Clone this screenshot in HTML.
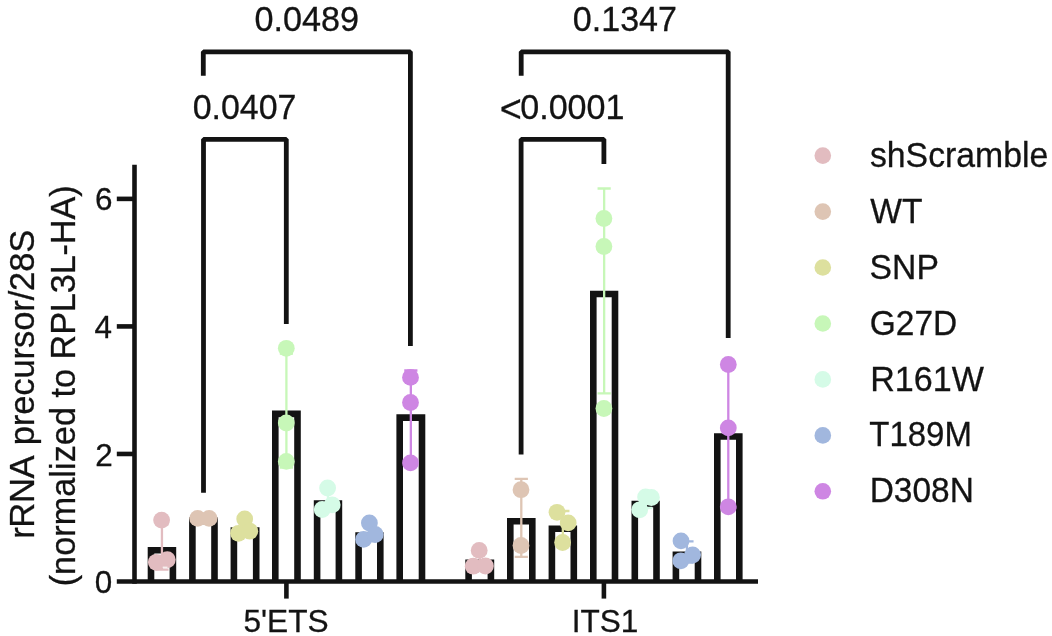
<!DOCTYPE html>
<html lang="en"><head><meta charset="utf-8"><title>rRNA precursor/28S</title>
<style>html,body{margin:0;padding:0;background:#fff}body{width:1052px;height:636px;overflow:hidden}svg{display:block}text{font-family:"Liberation Sans",sans-serif;fill:#131313;stroke:#131313;stroke-width:0.3px}</style>
</head><body>
<svg width="1052" height="636" viewBox="0 0 1052 636">
<rect width="1052" height="636" fill="#fff"/>
<g fill="none" stroke="#131313" stroke-width="6.6">
<path d="M151.00 581.5 V550.30 H172.90 V581.5"/>
<path d="M192.40 581.5 V520.90 H214.50 V581.5"/>
<path d="M233.90 581.5 V530.60 H256.20 V581.5"/>
<path d="M275.30 581.5 V413.90 H297.50 V581.5"/>
<path d="M317.10 581.5 V503.60 H338.90 V581.5"/>
<path d="M358.60 581.5 V535.50 H380.30 V581.5"/>
<path d="M399.70 581.5 V417.60 H422.00 V581.5"/>
<path d="M468.60 581.5 V562.70 H490.90 V581.5"/>
<path d="M510.30 581.5 V521.20 H532.30 V581.5"/>
<path d="M551.90 581.5 V528.70 H573.80 V581.5"/>
<path d="M593.30 581.5 V294.00 H615.00 V581.5"/>
<path d="M634.80 581.5 V504.00 H656.50 V581.5"/>
<path d="M675.90 581.5 V554.90 H698.00 V581.5"/>
<path d="M717.30 581.5 V436.50 H739.30 V581.5"/>
</g>
<g fill="none" stroke="#131313" stroke-width="4.6">
<path d="M134.5 164.7 V583.80"/>
<path d="M116.8 581.5 H758.0"/>
<path d="M116.8 453.96 H134.5"/>
<path d="M116.8 326.42 H134.5"/>
<path d="M116.8 198.88 H134.5"/>
<path d="M286.4 581.5 V598.6"/>
<path d="M603.9 581.5 V598.6"/>
</g>
<path d="M161.95 524.3 V569.6 M155.35 524.3 H168.55 M155.35 569.6 H168.55" fill="none" stroke="#E2BCC0" stroke-width="2.3"/>
<circle cx="161.6" cy="520.1" r="8.4" fill="#E2BCC0"/>
<circle cx="156.3" cy="562.3" r="8.4" fill="#E2BCC0"/>
<circle cx="167.3" cy="559.7" r="8.4" fill="#E2BCC0"/>
<circle cx="197.7" cy="518.4" r="8.4" fill="#DEC5B4"/>
<circle cx="209.1" cy="518.4" r="8.4" fill="#DEC5B4"/>
<path d="M245.05 518.5 V536.5 M238.45 518.5 H251.65 M238.45 536.5 H251.65" fill="none" stroke="#DDE09E" stroke-width="2.3"/>
<circle cx="244.7" cy="519.0" r="8.4" fill="#DDE09E"/>
<circle cx="238.5" cy="533.3" r="8.4" fill="#DDE09E"/>
<circle cx="249.8" cy="531.2" r="8.4" fill="#DDE09E"/>
<path d="M286.40 353.5 V467.5 M279.80 353.5 H293.00 M279.80 467.5 H293.00" fill="none" stroke="#C7F7B8" stroke-width="2.3"/>
<circle cx="286.3" cy="348.3" r="8.4" fill="#C7F7B8"/>
<circle cx="286.3" cy="423.0" r="8.4" fill="#C7F7B8"/>
<circle cx="286.3" cy="461.4" r="8.4" fill="#C7F7B8"/>
<path d="M328.00 490.5 V511.0 M321.40 490.5 H334.60 M321.40 511.0 H334.60" fill="none" stroke="#D5FBE7" stroke-width="2.3"/>
<circle cx="327.6" cy="488.0" r="8.4" fill="#D5FBE7"/>
<circle cx="322.2" cy="509.5" r="8.4" fill="#D5FBE7"/>
<circle cx="332.2" cy="504.8" r="8.4" fill="#D5FBE7"/>
<path d="M369.45 524.0 V541.0 M362.85 524.0 H376.05 M362.85 541.0 H376.05" fill="none" stroke="#A1B7DE" stroke-width="2.3"/>
<circle cx="369.4" cy="523.0" r="8.4" fill="#A1B7DE"/>
<circle cx="363.6" cy="539.4" r="8.4" fill="#A1B7DE"/>
<circle cx="375.2" cy="534.5" r="8.4" fill="#A1B7DE"/>
<path d="M410.85 370.5 V459.0 M404.25 370.5 H417.45 M404.25 459.0 H417.45" fill="none" stroke="#CE86E3" stroke-width="2.3"/>
<circle cx="410.5" cy="377.4" r="8.4" fill="#CE86E3"/>
<circle cx="410.5" cy="402.5" r="8.4" fill="#CE86E3"/>
<circle cx="410.5" cy="462.9" r="8.4" fill="#CE86E3"/>
<path d="M479.75 551.0 V568.0 M473.15 551.0 H486.35 M473.15 568.0 H486.35" fill="none" stroke="#E2BCC0" stroke-width="2.3"/>
<circle cx="479.2" cy="550.4" r="8.4" fill="#E2BCC0"/>
<circle cx="473.2" cy="566.2" r="8.4" fill="#E2BCC0"/>
<circle cx="485.4" cy="566.0" r="8.4" fill="#E2BCC0"/>
<path d="M521.30 478.9 V556.9 M514.70 478.9 H527.90 M514.70 556.9 H527.90" fill="none" stroke="#DEC5B4" stroke-width="2.3"/>
<circle cx="521.0" cy="489.7" r="8.4" fill="#DEC5B4"/>
<circle cx="521.0" cy="545.5" r="8.4" fill="#DEC5B4"/>
<path d="M562.85 511.0 V541.0 M556.25 511.0 H569.45 M556.25 541.0 H569.45" fill="none" stroke="#DDE09E" stroke-width="2.3"/>
<circle cx="557.0" cy="512.3" r="8.4" fill="#DDE09E"/>
<circle cx="568.2" cy="522.9" r="8.4" fill="#DDE09E"/>
<circle cx="562.6" cy="542.5" r="8.4" fill="#DDE09E"/>
<path d="M604.15 188.5 V393.3 M597.55 188.5 H610.75 M597.55 393.3 H610.75" fill="none" stroke="#C7F7B8" stroke-width="2.3"/>
<circle cx="603.9" cy="218.5" r="8.4" fill="#C7F7B8"/>
<circle cx="603.9" cy="246.5" r="8.4" fill="#C7F7B8"/>
<circle cx="603.9" cy="408.5" r="8.4" fill="#C7F7B8"/>
<path d="M645.65 493.5 V508.0 M639.05 493.5 H652.25 M639.05 508.0 H652.25" fill="none" stroke="#D5FBE7" stroke-width="2.3"/>
<circle cx="645.6" cy="497.0" r="8.4" fill="#D5FBE7"/>
<circle cx="651.4" cy="497.5" r="8.4" fill="#D5FBE7"/>
<circle cx="639.7" cy="509.8" r="8.4" fill="#D5FBE7"/>
<path d="M686.95 541.3 V562.5 M680.35 541.3 H693.55 M680.35 562.5 H693.55" fill="none" stroke="#A1B7DE" stroke-width="2.3"/>
<circle cx="681.0" cy="540.9" r="8.4" fill="#A1B7DE"/>
<circle cx="692.6" cy="555.0" r="8.4" fill="#A1B7DE"/>
<circle cx="680.8" cy="560.8" r="8.4" fill="#A1B7DE"/>
<path d="M728.30 362.0 V504.5 M721.70 362.0 H734.90 M721.70 504.5 H734.90" fill="none" stroke="#CE86E3" stroke-width="2.3"/>
<circle cx="728.3" cy="364.5" r="8.4" fill="#CE86E3"/>
<circle cx="728.3" cy="427.9" r="8.4" fill="#CE86E3"/>
<circle cx="728.3" cy="506.8" r="8.4" fill="#CE86E3"/>
<path d="M162.7 567.3 H167.5" stroke="#F7EFEF" stroke-width="1.4" fill="none"/>
<g fill="none" stroke="#131313" stroke-width="4.8" stroke-linejoin="bevel">
<path d="M203.3 75.8 V51.8 H410.4 V346"/>
<path d="M203.5 492.8 V139.3 H286.3 V324.0"/>
<path d="M521.2 75.8 V51.8 H728.2 V337.9"/>
<path d="M521.1 454.6 V139.3 H603.9 V163.9"/>
</g>
<text transform="translate(254.53 31.30) scale(0.9609 1)" font-size="35.6">0.0489</text>
<text transform="translate(192.74 119.05) scale(0.9524 1)" font-size="35.6">0.0407</text>
<text transform="translate(572.74 31.30) scale(0.9581 1)" font-size="35.6">0.1347</text>
<text transform="translate(499.7 119.05) scale(0.958 1)" font-size="35.6"><tspan font-size="39.5" dy="3.4">&lt;</tspan><tspan dy="-3.4" dx="-1.63">0.0001</tspan></text>
<text transform="translate(94.82 593.15) scale(0.985 1)" font-size="31.9">0</text>
<text transform="translate(95.13 465.65) scale(0.985 1)" font-size="31.9">2</text>
<text transform="translate(94.50 338.05) scale(0.985 1)" font-size="31.9">4</text>
<text transform="translate(94.98 210.45) scale(0.985 1)" font-size="31.9">6</text>
<text transform="translate(243.43 632.15) scale(0.9928 1)" font-size="31.9">5'ETS</text>
<text transform="translate(571.66 632.15) scale(0.9894 1)" font-size="31.9">ITS1</text>
<text transform="translate(33.9 538.85) rotate(-90) scale(0.9716 1)" font-size="35.6"><tspan dx="-0.00" letter-spacing="-0.360">rRNA</tspan> <tspan dx="0.86" letter-spacing="-0.122">precursor/28S</tspan></text>
<text transform="translate(75.0 586.35) rotate(-90) scale(0.9605 1)" font-size="35.6"><tspan dx="-0.00" letter-spacing="0.073">(normalized to</tspan> <tspan dx="-0.12" letter-spacing="-0.109">RPL3L-HA)</tspan></text>
<circle cx="822.8" cy="155.6" r="8.3" fill="#E2BCC0"/>
<text transform="translate(869.89 166.90) scale(0.9498 1)" font-size="35.6">shScramble</text>
<circle cx="822.8" cy="211.6" r="8.3" fill="#DEC5B4"/>
<text transform="translate(870.33 222.80) scale(0.9431 1)" font-size="35.6">WT</text>
<circle cx="822.8" cy="267.5" r="8.3" fill="#DDE09E"/>
<text transform="translate(869.58 278.70) scale(0.9473 1)" font-size="35.6">SNP</text>
<circle cx="822.8" cy="323.5" r="8.3" fill="#C7F7B8"/>
<text transform="translate(869.73 334.60) scale(0.9404 1)" font-size="35.6">G27D</text>
<circle cx="822.8" cy="379.4" r="8.3" fill="#D5FBE7"/>
<text transform="translate(870.17 390.50) scale(0.9576 1)" font-size="35.6">R161W</text>
<circle cx="822.8" cy="435.4" r="8.3" fill="#A1B7DE"/>
<text transform="translate(869.28 446.40) scale(0.9264 1)" font-size="35.6">T189M</text>
<circle cx="822.8" cy="491.3" r="8.3" fill="#CE86E3"/>
<text transform="translate(869.72 502.30) scale(0.9398 1)" font-size="35.6">D308N</text>
</svg></body></html>
